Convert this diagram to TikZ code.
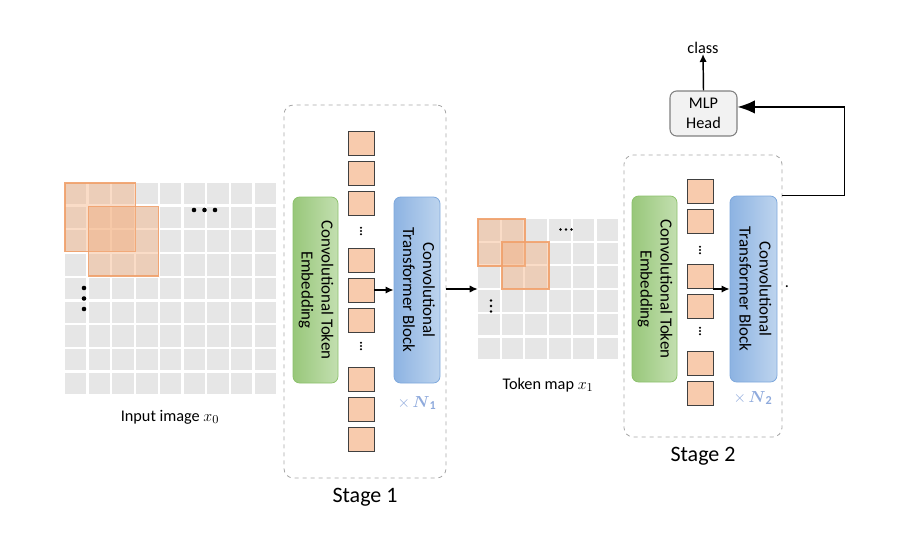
\documentclass[tikz,border=0pt]{standalone}
\usepackage{amsmath}
\usepackage{fontspec}
\setmainfont{Carlito}
\usetikzlibrary{arrows.meta}
\newlength\px \setlength\px{0.75pt}
\definecolor{cellgray}{HTML}{E6E6E6}
\definecolor{patchor}{HTML}{F4B183}
\definecolor{patchline}{HTML}{F0A06A}
\definecolor{tokfill}{HTML}{F8CBAD}
\definecolor{tokline}{HTML}{404040}
\definecolor{gl}{HTML}{98C77A}
\definecolor{gr}{HTML}{C3DFB0}
\definecolor{gline}{HTML}{8CC16C}
\definecolor{bl}{HTML}{8DB3E2}
\definecolor{br}{HTML}{BDD4EE}
\definecolor{bline}{HTML}{7EA8DC}
\definecolor{nblue}{HTML}{8FAADC}
\definecolor{dashgray}{HTML}{A6A6A6}
\begin{document}
\begin{tikzpicture}[x=0.75pt,y=-0.75pt,
  cell/.style={fill=cellgray},
  patch/.style={fill=patchor,fill opacity=0.45,draw=patchline,line width=1.1pt,draw opacity=0.9},
  token/.style={draw=tokline,fill=tokfill,line width=0.6pt,minimum width=26\px,minimum height=24\px,inner sep=0},
  embbox/.style={draw=gline,left color=gl,right color=gr,rounded corners=5pt,line width=0.6pt,minimum width=45\px,minimum height=186\px,inner sep=0,font=\fontsize{12.7}{15}\selectfont},
  blkbox/.style={draw=bline,left color=bl,right color=br,rounded corners=5pt,line width=0.6pt,minimum width=46\px,minimum height=186\px,inner sep=0,font=\fontsize{12.7}{15}\selectfont},
  stagebox/.style={draw=dashgray,dashed,rounded corners=7pt,line width=0.6pt,inner sep=0},
  arr/.style={-{Latex[length=6pt,width=5.5pt]},line width=1.1pt},
  bigarr/.style={-{Latex[length=13pt,width=10pt]},line width=1.1pt},
  lbl/.style={font=\fontsize{12.2}{14.5}\selectfont,inner sep=0},
  stlbl/.style={font=\fontsize{16.5}{19}\selectfont,inner sep=0},
  nlbl/.style={text=nblue,font=\fontsize{13}{15}\selectfont,inner sep=0},
  dot/.style={fill=black}
]
\useasboundingbox (0,0) rectangle (916,547);

% ---------- input image grid ----------
\foreach \i in {0,...,8}{\foreach \j in {0,...,8}{
  \fill[cell] ({65+\i*23.7},{183+\j*23.7}) rectangle ++(21.4,21.4);}}
\node[inner sep=0,minimum width=211\px,minimum height=213\px] (img) at (170.5,289.5) {};
\draw[patch] (65,183) rectangle (135.5,251.5);
\draw[patch] (88.7,206.7) rectangle (158.5,276);
\foreach \x in {194,204.5,215} \fill[dot] (\x,210) circle (2.3);
\foreach \y in {288,298.5,309} \fill[dot] (84,\y) circle (2.3);
\node[lbl] (imglbl) at (170,417) {Input image $x_0$};

% ---------- Stage 1 ----------
\node[stagebox,minimum width=162\px,minimum height=373\px] (st1) at (365,291.5) {};
\node[stlbl] (st1lbl) at (365,497) {Stage 1};
\node[embbox] (emb1) at (315.5,290) {\rotatebox{-90}{\begin{tabular}{@{}c@{}}Convolutional Token\\Embedding\end{tabular}}};
\node[blkbox] (blk1) at (417,290) {\rotatebox{-90}{\begin{tabular}{@{}c@{}}Convolutional\\Transformer Block\end{tabular}}};
\foreach \n/\t in {1/131,2/161,3/191,4/248,5/278,6/308,7/367,8/397,9/427}
  \node[token] (ta\n) at (361,{\t+12}) {};
\foreach \c in {231,346}{\foreach \d in {-3.3,0,3.3} \fill[dot] (361,{\c+\d}) circle (1.1);}
\draw[arr] (ta5.east) -- (blk1.west |- ta5.east);
\node[nlbl] (n1) at (417,403) {$\times\,\boldsymbol{N}_{\mathbf{1}}$};

% ---------- token map ----------
\foreach \i in {0,...,5}{\foreach \j in {0,...,5}{
  \fill[cell] ({478+\i*23.7},{219+\j*23.7}) rectangle ++(21.5,21.5);}}
\node[inner sep=0,minimum width=140\px,minimum height=140\px] (map) at (548,289) {};
\draw[patch] (478,219) rectangle (525,266);
\draw[patch] (502,242) rectangle (549,289);
\foreach \x in {560.5,566,571.5} \fill[dot] (\x,229.5) circle (1.3);
\foreach \y in {300.5,306,311.5} \fill[dot] (491,\y) circle (1.3);
\node[lbl] (maplbl) at (548,385) {Token map $x_1$};
\draw[arr] (st1.east |- map.west) -- (map.west);

% ---------- Stage 2 ----------
\node[stagebox,minimum width=158\px,minimum height=282\px] (st2) at (703,296) {};
\node[stlbl] (st2lbl) at (703,456) {Stage 2};
\node[embbox] (emb2) at (654.5,289) {\rotatebox{-90}{\begin{tabular}{@{}c@{}}Convolutional Token\\Embedding\end{tabular}}};
\node[blkbox,minimum width=47\px] (blk2) at (753.5,289) {\rotatebox{-90}{\begin{tabular}{@{}c@{}}Convolutional\\Transformer Block\end{tabular}}};
\foreach \n/\t in {1/179,2/209,3/264,4/294,5/351,6/381}
  \node[token] (tb\n) at (700,{\t+12}) {};
\foreach \c in {250,331}{\foreach \d in {-3.3,0,3.3} \fill[dot] (700,{\c+\d}) circle (1.1);}
\draw[arr] (blk2.west -| tb3.east) -- (blk2.west);
\node[nlbl] (n2) at (753,398) {$\times\,\boldsymbol{N}_{\mathbf{2}}$};
\node[lbl] (stray) at (787,287) {.};

% ---------- MLP head ----------
\node[draw=gray,fill=black!5,rounded corners=5pt,line width=0.8pt,minimum width=67\px,minimum height=45\px,inner sep=0,align=center,lbl] (mlp) at (703.5,113.5) {MLP\\Head};
\node[lbl] (cls) at (703,48) {class};
\draw[arr] (mlp.north) -- (cls.south);
\draw[bigarr] (st2.east |- blk2.north) -- ++(62,0) |- ([yshift=4.9pt]mlp.east);
\end{tikzpicture}
\end{document}
